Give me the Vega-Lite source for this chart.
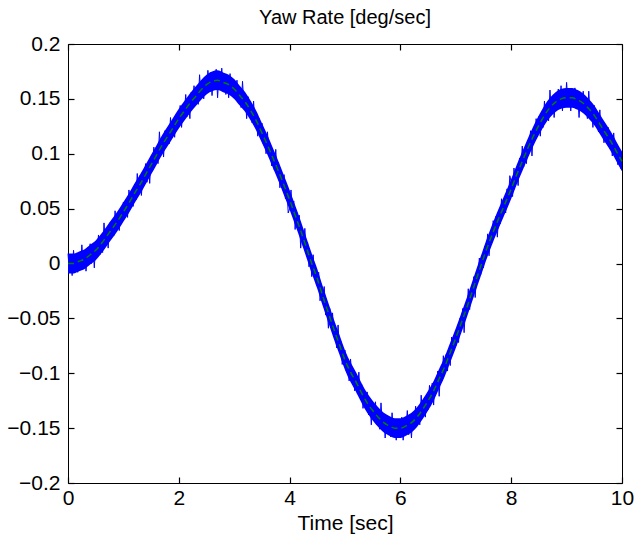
{
"$schema":"https://vega.github.io/schema/vega-lite/v6.json",
"width":554,"height":439,
"autosize":{"type":"none"},
"padding":{"left":68,"top":44,"right":13,"bottom":55},
"title":{"text":"Yaw Rate [deg/sec]","fontSize":20,"fontWeight":"normal","font":"Liberation Sans","color":"black","offset":5},
"config":{"font":"Liberation Sans","view":{"stroke":"black","strokeWidth":1},
"axis":{"grid":false,"domain":false,"ticks":true,"tickColor":"black","tickSize":6,"offset":-6,"tickWidth":1.2,"zindex":2,"labelColor":"black","labelFontSize":21,"labelFlush":false,"labelOverlap":false,"titleFontSize":21,"titleFontWeight":"normal","titleColor":"black","titleFont":"Liberation Sans","labelFont":"Liberation Sans"}},
"datasets":{
"blue":[
{"t":0,"v":0.009},{"t":0.025,"v":-0.007},{"t":0.05,"v":0.004},{"t":0.075,"v":-0.011},
{"t":0.1,"v":0.012},{"t":0.125,"v":-0.002},{"t":0.15,"v":0.007},{"t":0.175,"v":-0.008},
{"t":0.2,"v":0.004},{"t":0.225,"v":-0.005},{"t":0.25,"v":0.017},{"t":0.275,"v":-0.001},
{"t":0.3,"v":0.012},{"t":0.325,"v":-0.007},{"t":0.35,"v":0.009},{"t":0.375,"v":0.001},
{"t":0.4,"v":0.018},{"t":0.425,"v":0},{"t":0.45,"v":0.015},{"t":0.475,"v":-0.004},
{"t":0.5,"v":0.019},{"t":0.525,"v":0.011},{"t":0.55,"v":0.026},{"t":0.575,"v":0.008},
{"t":0.6,"v":0.019},{"t":0.625,"v":0.010},{"t":0.65,"v":0.037},{"t":0.675,"v":0.019},
{"t":0.7,"v":0.031},{"t":0.725,"v":0.014},{"t":0.75,"v":0.037},{"t":0.775,"v":0.029},
{"t":0.8,"v":0.036},{"t":0.825,"v":0.025},{"t":0.85,"v":0.048},{"t":0.875,"v":0.031},
{"t":0.9,"v":0.041},{"t":0.925,"v":0.030},{"t":0.95,"v":0.050},{"t":0.975,"v":0.040},
{"t":1.0,"v":0.056},{"t":1.025,"v":0.042},{"t":1.05,"v":0.055},{"t":1.075,"v":0.042},
{"t":1.1,"v":0.067},{"t":1.125,"v":0.054},{"t":1.15,"v":0.066},{"t":1.175,"v":0.052},
{"t":1.2,"v":0.066},{"t":1.225,"v":0.058},{"t":1.25,"v":0.082},{"t":1.275,"v":0.065},
{"t":1.3,"v":0.080},{"t":1.325,"v":0.062},{"t":1.35,"v":0.080},{"t":1.375,"v":0.073},
{"t":1.4,"v":0.091},{"t":1.425,"v":0.074},{"t":1.45,"v":0.091},{"t":1.475,"v":0.073},
{"t":1.5,"v":0.097},{"t":1.525,"v":0.090},{"t":1.55,"v":0.106},{"t":1.575,"v":0.089},
{"t":1.6,"v":0.100},{"t":1.625,"v":0.091},{"t":1.65,"v":0.120},{"t":1.675,"v":0.102},
{"t":1.7,"v":0.114},{"t":1.725,"v":0.097},{"t":1.75,"v":0.121},{"t":1.775,"v":0.113},
{"t":1.8,"v":0.120},{"t":1.825,"v":0.109},{"t":1.85,"v":0.133},{"t":1.875,"v":0.116},
{"t":1.9,"v":0.126},{"t":1.925,"v":0.115},{"t":1.95,"v":0.135},{"t":1.975,"v":0.125},
{"t":2.0,"v":0.126},{"t":2.025,"v":0.144},{"t":2.05,"v":0.124},{"t":2.075,"v":0.142},
{"t":2.1,"v":0.137},{"t":2.125,"v":0.154},{"t":2.15,"v":0.134},{"t":2.175,"v":0.147},
{"t":2.2,"v":0.132},{"t":2.225,"v":0.156},{"t":2.25,"v":0.145},{"t":2.275,"v":0.162},
{"t":2.3,"v":0.145},{"t":2.325,"v":0.155},{"t":2.35,"v":0.145},{"t":2.375,"v":0.172},
{"t":2.4,"v":0.153},{"t":2.425,"v":0.166},{"t":2.45,"v":0.150},{"t":2.475,"v":0.166},
{"t":2.5,"v":0.155},{"t":2.525,"v":0.176},{"t":2.55,"v":0.162},{"t":2.575,"v":0.174},
{"t":2.6,"v":0.153},{"t":2.625,"v":0.172},{"t":2.65,"v":0.166},{"t":2.675,"v":0.177},
{"t":2.7,"v":0.151},{"t":2.725,"v":0.172},{"t":2.75,"v":0.159},{"t":2.775,"v":0.178},
{"t":2.8,"v":0.163},{"t":2.825,"v":0.172},{"t":2.85,"v":0.154},{"t":2.875,"v":0.167},
{"t":2.9,"v":0.151},{"t":2.925,"v":0.173},{"t":2.95,"v":0.157},{"t":2.975,"v":0.166},
{"t":3.0,"v":0.166},{"t":3.025,"v":0.156},{"t":3.05,"v":0.167},{"t":3.075,"v":0.147},
{"t":3.1,"v":0.154},{"t":3.125,"v":0.142},{"t":3.15,"v":0.166},{"t":3.175,"v":0.145},
{"t":3.2,"v":0.153},{"t":3.225,"v":0.132},{"t":3.25,"v":0.152},{"t":3.275,"v":0.140},
{"t":3.3,"v":0.143},{"t":3.325,"v":0.128},{"t":3.35,"v":0.148},{"t":3.375,"v":0.126},
{"t":3.4,"v":0.132},{"t":3.425,"v":0.116},{"t":3.45,"v":0.132},{"t":3.475,"v":0.117},
{"t":3.5,"v":0.128},{"t":3.525,"v":0.109},{"t":3.55,"v":0.118},{"t":3.575,"v":0.100},
{"t":3.6,"v":0.120},{"t":3.625,"v":0.102},{"t":3.65,"v":0.108},{"t":3.675,"v":0.089},
{"t":3.7,"v":0.098},{"t":3.725,"v":0.085},{"t":3.75,"v":0.104},{"t":3.775,"v":0.082},
{"t":3.8,"v":0.092},{"t":3.825,"v":0.069},{"t":3.85,"v":0.081},{"t":3.875,"v":0.068},
{"t":3.9,"v":0.081},{"t":3.925,"v":0.059},{"t":3.95,"v":0.070},{"t":3.975,"v":0.046},
{"t":4.0,"v":0.050},{"t":4.025,"v":0.067},{"t":4.05,"v":0.048},{"t":4.075,"v":0.057},
{"t":4.1,"v":0.031},{"t":4.125,"v":0.047},{"t":4.15,"v":0.036},{"t":4.175,"v":0.044},
{"t":4.2,"v":0.014},{"t":4.225,"v":0.031},{"t":4.25,"v":0.016},{"t":4.275,"v":0.032},
{"t":4.3,"v":0.013},{"t":4.325,"v":0.019},{"t":4.35,"v":-0.003},{"t":4.375,"v":0.007},
{"t":4.4,"v":-0.012},{"t":4.425,"v":0.008},{"t":4.45,"v":-0.011},{"t":4.475,"v":-0.005},
{"t":4.5,"v":-0.020},{"t":4.525,"v":-0.008},{"t":4.55,"v":-0.034},{"t":4.575,"v":-0.021},
{"t":4.6,"v":-0.032},{"t":4.625,"v":-0.021},{"t":4.65,"v":-0.047},{"t":4.675,"v":-0.038},
{"t":4.7,"v":-0.059},{"t":4.725,"v":-0.041},{"t":4.75,"v":-0.057},{"t":4.775,"v":-0.045},
{"t":4.8,"v":-0.067},{"t":4.825,"v":-0.063},{"t":4.85,"v":-0.077},{"t":4.875,"v":-0.056},
{"t":4.9,"v":-0.079},{"t":4.925,"v":-0.071},{"t":4.95,"v":-0.092},{"t":4.975,"v":-0.081},
{"t":5.0,"v":-0.079},{"t":5.025,"v":-0.098},{"t":5.05,"v":-0.090},{"t":5.075,"v":-0.107},
{"t":5.1,"v":-0.087},{"t":5.125,"v":-0.104},{"t":5.15,"v":-0.098},{"t":5.175,"v":-0.116},
{"t":5.2,"v":-0.106},{"t":5.225,"v":-0.119},{"t":5.25,"v":-0.099},{"t":5.275,"v":-0.121},
{"t":5.3,"v":-0.110},{"t":5.325,"v":-0.132},{"t":5.35,"v":-0.120},{"t":5.375,"v":-0.131},
{"t":5.4,"v":-0.117},{"t":5.425,"v":-0.138},{"t":5.45,"v":-0.126},{"t":5.475,"v":-0.147},
{"t":5.5,"v":-0.127},{"t":5.525,"v":-0.138},{"t":5.55,"v":-0.126},{"t":5.575,"v":-0.147},
{"t":5.6,"v":-0.139},{"t":5.625,"v":-0.151},{"t":5.65,"v":-0.127},{"t":5.675,"v":-0.148},
{"t":5.7,"v":-0.139},{"t":5.725,"v":-0.159},{"t":5.75,"v":-0.138},{"t":5.775,"v":-0.148},
{"t":5.8,"v":-0.144},{"t":5.825,"v":-0.158},{"t":5.85,"v":-0.136},{"t":5.875,"v":-0.156},
{"t":5.9,"v":-0.148},{"t":5.925,"v":-0.161},{"t":5.95,"v":-0.143},{"t":5.975,"v":-0.155},
{"t":6.0,"v":-0.156},{"t":6.025,"v":-0.140},{"t":6.05,"v":-0.161},{"t":6.075,"v":-0.144},
{"t":6.1,"v":-0.150},{"t":6.125,"v":-0.134},{"t":6.15,"v":-0.156},{"t":6.175,"v":-0.143},
{"t":6.2,"v":-0.159},{"t":6.225,"v":-0.136},{"t":6.25,"v":-0.147},{"t":6.275,"v":-0.130},
{"t":6.3,"v":-0.147},{"t":6.325,"v":-0.137},{"t":6.35,"v":-0.147},{"t":6.375,"v":-0.120},
{"t":6.4,"v":-0.138},{"t":6.425,"v":-0.124},{"t":6.45,"v":-0.140},{"t":6.475,"v":-0.123},
{"t":6.5,"v":-0.133},{"t":6.525,"v":-0.111},{"t":6.55,"v":-0.124},{"t":6.575,"v":-0.109},
{"t":6.6,"v":-0.129},{"t":6.625,"v":-0.107},{"t":6.65,"v":-0.112},{"t":6.675,"v":-0.098},
{"t":6.7,"v":-0.121},{"t":6.725,"v":-0.097},{"t":6.75,"v":-0.107},{"t":6.775,"v":-0.084},
{"t":6.8,"v":-0.096},{"t":6.825,"v":-0.083},{"t":6.85,"v":-0.098},{"t":6.875,"v":-0.081},
{"t":6.9,"v":-0.093},{"t":6.925,"v":-0.067},{"t":6.95,"v":-0.079},{"t":6.975,"v":-0.065},
{"t":7.0,"v":-0.075},{"t":7.025,"v":-0.063},{"t":7.05,"v":-0.072},{"t":7.075,"v":-0.050},
{"t":7.1,"v":-0.055},{"t":7.125,"v":-0.041},{"t":7.15,"v":-0.063},{"t":7.175,"v":-0.040},
{"t":7.2,"v":-0.046},{"t":7.225,"v":-0.023},{"t":7.25,"v":-0.042},{"t":7.275,"v":-0.028},
{"t":7.3,"v":-0.029},{"t":7.325,"v":-0.012},{"t":7.35,"v":-0.031},{"t":7.375,"v":-0.008},
{"t":7.4,"v":-0.012},{"t":7.425,"v":0.005},{"t":7.45,"v":-0.010},{"t":7.475,"v":0.006},
{"t":7.5,"v":-0.004},{"t":7.525,"v":0.016},{"t":7.55,"v":0.008},{"t":7.575,"v":0.027},
{"t":7.6,"v":0.007},{"t":7.625,"v":0.025},{"t":7.65,"v":0.020},{"t":7.675,"v":0.039},
{"t":7.7,"v":0.030},{"t":7.725,"v":0.043},{"t":7.75,"v":0.024},{"t":7.775,"v":0.046},
{"t":7.8,"v":0.036},{"t":7.825,"v":0.059},{"t":7.85,"v":0.047},{"t":7.875,"v":0.059},
{"t":7.9,"v":0.046},{"t":7.925,"v":0.068},{"t":7.95,"v":0.057},{"t":7.975,"v":0.080},
{"t":8.0,"v":0.074},{"t":8.025,"v":0.061},{"t":8.05,"v":0.087},{"t":8.075,"v":0.073},
{"t":8.1,"v":0.083},{"t":8.125,"v":0.071},{"t":8.15,"v":0.096},{"t":8.175,"v":0.087},
{"t":8.2,"v":0.107},{"t":8.225,"v":0.088},{"t":8.25,"v":0.103},{"t":8.275,"v":0.091},
{"t":8.3,"v":0.112},{"t":8.325,"v":0.107},{"t":8.35,"v":0.121},{"t":8.375,"v":0.098},
{"t":8.4,"v":0.121},{"t":8.425,"v":0.112},{"t":8.45,"v":0.132},{"t":8.475,"v":0.120},
{"t":8.5,"v":0.134},{"t":8.525,"v":0.116},{"t":8.55,"v":0.134},{"t":8.575,"v":0.124},
{"t":8.6,"v":0.148},{"t":8.625,"v":0.131},{"t":8.65,"v":0.140},{"t":8.675,"v":0.130},
{"t":8.7,"v":0.158},{"t":8.725,"v":0.138},{"t":8.75,"v":0.152},{"t":8.775,"v":0.133},
{"t":8.8,"v":0.149},{"t":8.825,"v":0.140},{"t":8.85,"v":0.159},{"t":8.875,"v":0.146},
{"t":8.9,"v":0.162},{"t":8.925,"v":0.139},{"t":8.95,"v":0.155},{"t":8.975,"v":0.145},
{"t":9.0,"v":0.165},{"t":9.025,"v":0.146},{"t":9.05,"v":0.159},{"t":9.075,"v":0.139},
{"t":9.1,"v":0.154},{"t":9.125,"v":0.145},{"t":9.15,"v":0.160},{"t":9.175,"v":0.141},
{"t":9.2,"v":0.154},{"t":9.225,"v":0.133},{"t":9.25,"v":0.155},{"t":9.275,"v":0.145},
{"t":9.3,"v":0.157},{"t":9.325,"v":0.137},{"t":9.35,"v":0.145},{"t":9.375,"v":0.132},
{"t":9.4,"v":0.157},{"t":9.425,"v":0.136},{"t":9.45,"v":0.144},{"t":9.475,"v":0.124},
{"t":9.5,"v":0.144},{"t":9.525,"v":0.132},{"t":9.55,"v":0.135},{"t":9.575,"v":0.120},
{"t":9.6,"v":0.140},{"t":9.625,"v":0.119},{"t":9.65,"v":0.125},{"t":9.675,"v":0.110},
{"t":9.7,"v":0.126},{"t":9.725,"v":0.112},{"t":9.75,"v":0.124},{"t":9.775,"v":0.106},
{"t":9.8,"v":0.115},{"t":9.825,"v":0.098},{"t":9.85,"v":0.119},{"t":9.875,"v":0.101},
{"t":9.9,"v":0.108},{"t":9.925,"v":0.090},{"t":9.95,"v":0.100},{"t":9.975,"v":0.087},
{"t":10.0,"v":0.085}
],
"green":[
{"t":0,"v":0,"lo":-0.009,"hi":0.009},{"t":0.1,"v":0,"lo":-0.009,"hi":0.009},{"t":0.2,"v":0.002,"lo":-0.007,"hi":0.011},{"t":0.3,"v":0.004,"lo":-0.005,"hi":0.013},{"t":0.4,"v":0.008,"lo":-0.001,"hi":0.017},
{"t":0.5,"v":0.012,"lo":0.003,"hi":0.021},{"t":0.6,"v":0.018,"lo":0.009,"hi":0.027},{"t":0.7,"v":0.025,"lo":0.016,"hi":0.034},{"t":0.8,"v":0.032,"lo":0.023,"hi":0.041},{"t":0.9,"v":0.039,"lo":0.030,"hi":0.048},
{"t":1.0,"v":0.047,"lo":0.038,"hi":0.056},{"t":1.1,"v":0.055,"lo":0.046,"hi":0.064},{"t":1.2,"v":0.064,"lo":0.055,"hi":0.073},{"t":1.3,"v":0.072,"lo":0.063,"hi":0.081},{"t":1.4,"v":0.081,"lo":0.072,"hi":0.090},
{"t":1.5,"v":0.090,"lo":0.081,"hi":0.099},{"t":1.6,"v":0.099,"lo":0.090,"hi":0.108},{"t":1.7,"v":0.108,"lo":0.099,"hi":0.117},{"t":1.8,"v":0.116,"lo":0.107,"hi":0.125},{"t":1.9,"v":0.124,"lo":0.115,"hi":0.133},
{"t":2.0,"v":0.132,"lo":0.123,"hi":0.141},{"t":2.1,"v":0.139,"lo":0.130,"hi":0.148},{"t":2.2,"v":0.146,"lo":0.137,"hi":0.155},{"t":2.3,"v":0.152,"lo":0.143,"hi":0.161},{"t":2.4,"v":0.158,"lo":0.149,"hi":0.167},
{"t":2.5,"v":0.163,"lo":0.154,"hi":0.172},{"t":2.6,"v":0.166,"lo":0.157,"hi":0.175},{"t":2.7,"v":0.167,"lo":0.158,"hi":0.176},{"t":2.8,"v":0.165,"lo":0.156,"hi":0.174},{"t":2.9,"v":0.163,"lo":0.154,"hi":0.172},
{"t":3.0,"v":0.159,"lo":0.150,"hi":0.168},{"t":3.1,"v":0.153,"lo":0.144,"hi":0.162},{"t":3.2,"v":0.147,"lo":0.138,"hi":0.156},{"t":3.3,"v":0.139,"lo":0.130,"hi":0.148},{"t":3.4,"v":0.130,"lo":0.121,"hi":0.139},
{"t":3.5,"v":0.119,"lo":0.110,"hi":0.128},{"t":3.6,"v":0.108,"lo":0.099,"hi":0.117},{"t":3.7,"v":0.096,"lo":0.087,"hi":0.105},{"t":3.8,"v":0.084,"lo":0.075,"hi":0.093},{"t":3.9,"v":0.071,"lo":0.062,"hi":0.080},
{"t":4.0,"v":0.058,"lo":0.049,"hi":0.067},{"t":4.1,"v":0.044,"lo":0.035,"hi":0.053},{"t":4.2,"v":0.030,"lo":0.021,"hi":0.039},{"t":4.3,"v":0.015,"lo":0.006,"hi":0.024},{"t":4.4,"v":0,"lo":-0.009,"hi":0.009},
{"t":4.5,"v":-0.014,"lo":-0.023,"hi":-0.005},{"t":4.6,"v":-0.030,"lo":-0.039,"hi":-0.021},{"t":4.7,"v":-0.045,"lo":-0.054,"hi":-0.036},{"t":4.8,"v":-0.060,"lo":-0.069,"hi":-0.051},{"t":4.9,"v":-0.074,"lo":-0.083,"hi":-0.065},
{"t":5.0,"v":-0.088,"lo":-0.097,"hi":-0.079},{"t":5.1,"v":-0.099,"lo":-0.108,"hi":-0.090},{"t":5.2,"v":-0.108,"lo":-0.117,"hi":-0.099},{"t":5.3,"v":-0.118,"lo":-0.127,"hi":-0.109},{"t":5.4,"v":-0.127,"lo":-0.136,"hi":-0.118},
{"t":5.5,"v":-0.134,"lo":-0.143,"hi":-0.125},{"t":5.6,"v":-0.140,"lo":-0.149,"hi":-0.131},{"t":5.7,"v":-0.145,"lo":-0.154,"hi":-0.136},{"t":5.8,"v":-0.148,"lo":-0.157,"hi":-0.139},{"t":5.9,"v":-0.150,"lo":-0.159,"hi":-0.141},
{"t":6.0,"v":-0.150,"lo":-0.159,"hi":-0.141},{"t":6.1,"v":-0.148,"lo":-0.157,"hi":-0.139},{"t":6.2,"v":-0.145,"lo":-0.154,"hi":-0.136},{"t":6.3,"v":-0.140,"lo":-0.149,"hi":-0.131},{"t":6.4,"v":-0.133,"lo":-0.142,"hi":-0.124},
{"t":6.5,"v":-0.125,"lo":-0.134,"hi":-0.116},{"t":6.6,"v":-0.116,"lo":-0.125,"hi":-0.107},{"t":6.7,"v":-0.105,"lo":-0.114,"hi":-0.096},{"t":6.8,"v":-0.094,"lo":-0.103,"hi":-0.085},{"t":6.9,"v":-0.081,"lo":-0.090,"hi":-0.072},
{"t":7.0,"v":-0.068,"lo":-0.077,"hi":-0.059},{"t":7.1,"v":-0.054,"lo":-0.063,"hi":-0.045},{"t":7.2,"v":-0.040,"lo":-0.049,"hi":-0.031},{"t":7.3,"v":-0.025,"lo":-0.034,"hi":-0.016},{"t":7.4,"v":-0.010,"lo":-0.019,"hi":-0.001},
{"t":7.5,"v":0.005,"lo":-0.004,"hi":0.014},{"t":7.6,"v":0.019,"lo":0.010,"hi":0.028},{"t":7.7,"v":0.032,"lo":0.023,"hi":0.041},{"t":7.8,"v":0.044,"lo":0.035,"hi":0.053},{"t":7.9,"v":0.056,"lo":0.047,"hi":0.065},
{"t":8.0,"v":0.068,"lo":0.059,"hi":0.077},{"t":8.1,"v":0.081,"lo":0.072,"hi":0.090},{"t":8.2,"v":0.093,"lo":0.084,"hi":0.102},{"t":8.3,"v":0.105,"lo":0.096,"hi":0.114},{"t":8.4,"v":0.116,"lo":0.107,"hi":0.125},
{"t":8.5,"v":0.126,"lo":0.117,"hi":0.135},{"t":8.6,"v":0.135,"lo":0.126,"hi":0.144},{"t":8.7,"v":0.142,"lo":0.133,"hi":0.151},{"t":8.8,"v":0.147,"lo":0.138,"hi":0.156},{"t":8.9,"v":0.150,"lo":0.141,"hi":0.159},
{"t":9.0,"v":0.151,"lo":0.142,"hi":0.160},{"t":9.1,"v":0.151,"lo":0.142,"hi":0.160},{"t":9.2,"v":0.149,"lo":0.140,"hi":0.158},{"t":9.3,"v":0.146,"lo":0.137,"hi":0.155},{"t":9.4,"v":0.141,"lo":0.132,"hi":0.150},
{"t":9.5,"v":0.135,"lo":0.126,"hi":0.144},{"t":9.6,"v":0.127,"lo":0.118,"hi":0.136},{"t":9.7,"v":0.119,"lo":0.110,"hi":0.128},{"t":9.8,"v":0.111,"lo":0.102,"hi":0.120},{"t":9.9,"v":0.102,"lo":0.093,"hi":0.111},
{"t":10.0,"v":0.093,"lo":0.084,"hi":0.102}
]},
"layer":[
{"data":{"name":"green"},"mark":{"type":"area","color":"#0000ff","opacity":1,"interpolate":"monotone"},
"encoding":{
"x":{"field":"t","type":"quantitative","scale":{"domain":[0,10],"nice":false,"zero":false},
"axis":{"orient":"bottom","values":[0,2,4,6,8,10],"title":"Time [sec]","labelPadding":4,"titlePadding":4}},
"y":{"field":"lo","type":"quantitative","scale":{"domain":[-0.2,0.2],"nice":false,"zero":false},
"axis":{"orient":"left","values":[-0.2,-0.15,-0.1,-0.05,0,0.05,0.1,0.15,0.2],"format":".2~f","title":null,"labelPadding":8}},
"y2":{"field":"hi"}}},
{"data":{"name":"blue"},"mark":{"type":"line","color":"#0000ff","strokeWidth":1},
"encoding":{
"x":{"field":"t","type":"quantitative","axis":{"orient":"top","values":[0,2,4,6,8,10],"labels":false,"title":null}},
"y":{"field":"v","type":"quantitative","axis":{"orient":"right","values":[-0.2,-0.15,-0.1,-0.05,0,0.05,0.1,0.15,0.2],"labels":false,"title":null}}}},
{"data":{"name":"green"},"mark":{"type":"line","color":"#008000","strokeWidth":1.5,"strokeDash":[6,4],"interpolate":"monotone"},
"encoding":{
"x":{"field":"t","type":"quantitative","axis":null},
"y":{"field":"v","type":"quantitative","axis":null}}}
],
"resolve":{"axis":{"x":"independent","y":"independent"}}
}
